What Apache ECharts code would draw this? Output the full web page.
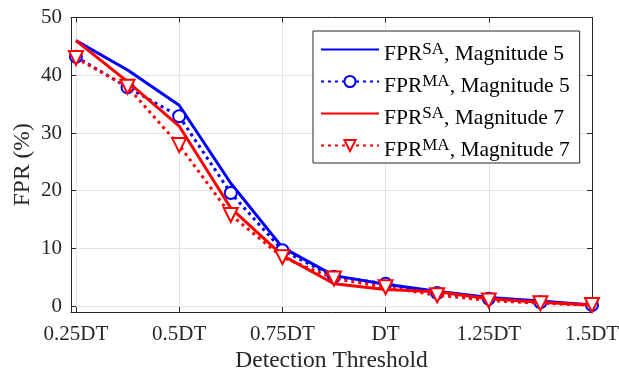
<!DOCTYPE html>
<html>
<head>
<meta charset="utf-8">
<script src="https://cdn.jsdelivr.net/npm/echarts@6/dist/echarts.min.js"></script>
<style>
  html, body { margin: 0; padding: 0; background: #fff; }
  #chart { width: 619px; height: 371px; }
</style>
</head>
<body>
<div id="chart"></div>
<script>
var thresholds = [0.25, 0.375, 0.5, 0.625, 0.75, 0.875, 1, 1.125, 1.25, 1.375, 1.5];
var saMag5 = [46.0, 40.9, 34.8, 21.3, 10.2, 5.3, 3.8, 2.6, 1.5, 0.9, 0.2];
var maMag5 = [43.2, 37.9, 32.9, 19.6, 9.7, 5.1, 3.9, 2.3, 1.3, 0.7, 0.2];
var saMag7 = [46.0, 38.9, 31.2, 17.0, 8.8, 3.9, 2.9, 2.5, 1.3, 0.7, 0.2];
var maMag7 = [43.0, 38.0, 27.9, 15.8, 8.5, 4.8, 3.3, 1.9, 1.0, 0.5, 0.2];

var xTicks = [0.25, 0.5, 0.75, 1, 1.25, 1.5];
var xTickLabels = ["0.25DT", "0.5DT", "0.75DT", "DT", "1.25DT", "1.5DT"];
var yTicks = [0, 10, 20, 30, 40, 50];

var font = "Liberation Serif";
var axisColor = "#262626";

function pairs(ys) {
  return thresholds.map(function (x, i) { return [x, ys[i]]; });
}

var myChart = echarts.init(document.getElementById("chart"), null, { renderer: "canvas" });

function xAxisCfg(pos, labels) {
  return {
    type: "value",
    position: pos,
    min: 0.238,
    max: 1.5,
    axisLine: { show: true, onZero: false, lineStyle: { color: axisColor, width: 1 } },
    axisTick: { show: true, inside: true, length: 5, customValues: xTicks, lineStyle: { color: axisColor } },
    axisLabel: {
      show: labels,
      customValues: xTicks,
      margin: 12,
      color: axisColor,
      fontFamily: font,
      fontSize: 21,
      formatter: function (v) {
        var i = xTicks.indexOf(v);
        return i >= 0 ? xTickLabels[i] : "";
      }
    },
    splitLine: { show: labels, lineStyle: { color: "#e3e3e3", width: 1 } },
    name: labels ? "Detection Threshold" : "",
    nameLocation: "middle",
    nameGap: 37,
    nameMoveOverlap: false,
    nameTextStyle: { color: axisColor, fontFamily: font, fontSize: 23.5 }
  };
}

function yAxisCfg(pos, labels) {
  return {
    type: "value",
    position: pos,
    min: -1,
    max: 50,
    axisLine: { show: true, onZero: false, lineStyle: { color: axisColor, width: 1 } },
    axisTick: { show: true, inside: true, length: 5, customValues: yTicks, lineStyle: { color: axisColor } },
    axisLabel: {
      show: labels,
      customValues: yTicks,
      margin: 9,
      color: axisColor,
      fontFamily: font,
      fontSize: 21
    },
    splitLine: { show: labels, lineStyle: { color: "#e3e3e3", width: 1 } },
    name: labels ? "FPR (%)" : "",
    nameLocation: "middle",
    nameGap: 36,
    nameMoveOverlap: false,
    nameTextStyle: { color: axisColor, fontFamily: font, fontSize: 23.5 }
  };
}

var blue = "#0000ff";
var red = "#ff0000";
var clear = "rgba(0,0,0,0)";

var option = {
  animation: false,
  backgroundColor: "#fff",
  grid: { left: 71, top: 17.5, right: 27, bottom: 59, containLabel: false, outerBoundsMode: "none" },
  xAxis: [xAxisCfg("bottom", true), xAxisCfg("top", false)],
  yAxis: [yAxisCfg("left", true), yAxisCfg("right", false)],
  legend: {
    orient: "vertical",
    left: 313,
    top: 31,
    padding: [3, 10, 2, 7],
    itemWidth: 58,
    itemHeight: 14,
    itemGap: 1,
    backgroundColor: "#fff",
    borderColor: axisColor,
    borderWidth: 1,
    textStyle: {
      color: "#000",
      fontFamily: font,
      lineHeight: 31,
      rich: {
        b: { fontFamily: font, fontSize: 21.5, lineHeight: 31, verticalAlign: "bottom", color: "#000" },
        s: { fontFamily: font, fontSize: 17, lineHeight: 31, verticalAlign: "middle", color: "#000" }
      }
    },
    formatter: function (name) {
      var parts = name.split("|");
      return "{b|FPR}{s|" + parts[0] + "}{b|, Magnitude " + parts[1] + "}";
    },
    data: ["SA|5", "MA|5", "SA|7", "MA|7"]
  },
  series: [
    {
      name: "SA|5",
      type: "line",
      data: pairs(saMag5),
      symbol: "circle",
      showSymbol: false,
      lineStyle: { color: blue, width: 3 },
      itemStyle: { color: clear, borderWidth: 0 },
      z: 2
    },
    {
      name: "MA|5",
      type: "line",
      data: pairs(maMag5),
      symbol: "emptyCircle",
      symbolSize: 12,
      lineStyle: { color: blue, width: 3, type: [3, 4] },
      itemStyle: { color: blue, borderColor: blue, borderWidth: 2.5 },
      z: 3
    },
    {
      name: "SA|7",
      type: "line",
      data: pairs(saMag7),
      symbol: "circle",
      showSymbol: false,
      lineStyle: { color: red, width: 3 },
      itemStyle: { color: clear, borderWidth: 0 },
      z: 4
    },
    {
      name: "MA|7",
      type: "line",
      data: pairs(maMag7),
      symbol: "emptyTriangle",
      symbolRotate: 180,
      symbolSize: 14,
      lineStyle: { color: red, width: 3, type: [3, 4] },
      itemStyle: { color: red, borderColor: red, borderWidth: 2.5 },
      z: 5
    }
  ]
};

myChart.setOption(option);
</script>
</body>
</html>
